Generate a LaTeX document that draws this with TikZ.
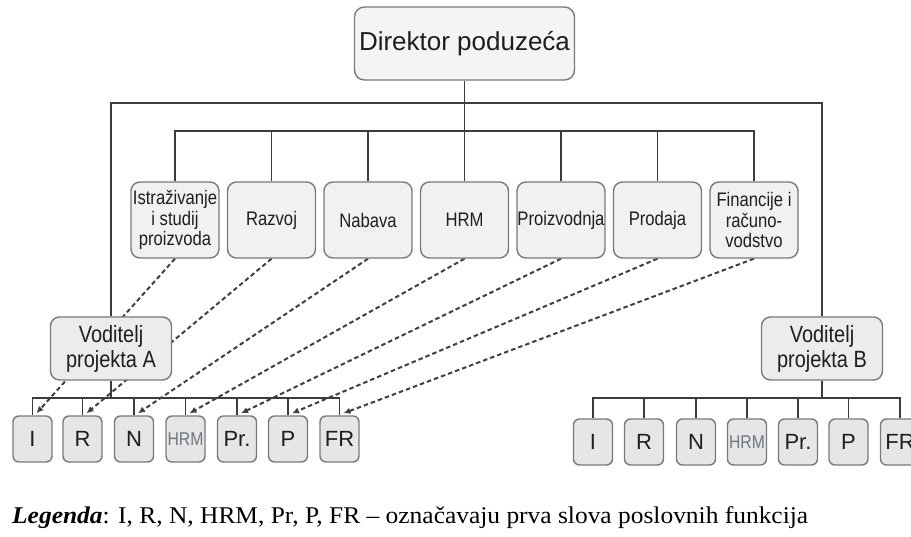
\documentclass[tikz,border=0pt]{standalone}
\usepackage{fontspec}
\setmainfont{Liberation Serif}
\newfontfamily\legendfont[FakeStretch=1.06]{Liberation Serif}
\newfontfamily\boxsans{Liberation Sans}
\newfontfamily\narrowsans[FakeStretch=0.85]{Liberation Sans}
\usetikzlibrary{arrows.meta,backgrounds,calc}
\definecolor{boxgray}{HTML}{7A7A7A}
\definecolor{linegray}{HTML}{3C3C3C}
\definecolor{dashgray}{HTML}{404040}
\definecolor{fillA}{HTML}{F4F4F4}
\definecolor{fillB}{HTML}{F1F1F1}
\definecolor{fillC}{HTML}{ECECEC}
\definecolor{fillD}{HTML}{E6E6E6}
\definecolor{txt}{HTML}{1E1E1E}
\definecolor{hrmtxt}{HTML}{6E7680}
\tikzset{
  anybox/.style={draw=boxgray, line width=1.4pt, inner sep=0pt, align=center, text=txt},
  dirbox/.style={anybox, rounded corners=10pt, fill=fillA, minimum width=220pt, minimum height=73pt,
    font=\boxsans\fontsize{26}{30}\selectfont},
  funcbox/.style={anybox, rounded corners=9pt, fill=fillB, minimum width=88pt, minimum height=76pt,
    font=\narrowsans\fontsize{19.6}{20.5}\selectfont},
  mgrbox/.style={anybox, rounded corners=9pt, fill=fillC, minimum width=121pt, minimum height=63pt,
    font=\narrowsans\fontsize{23.5}{25}\selectfont},
  smallbox/.style={anybox, rounded corners=6pt, fill=fillD, minimum width=39pt, minimum height=46pt,
    font=\boxsans\fontsize{22}{24}\selectfont},
  hrmbox/.style={smallbox, font=\narrowsans\fontsize{18.5}{20}\selectfont, text=hrmtxt},
  conn/.style={draw=linegray, line width=1.5pt},
  dashconn/.style={draw=dashgray, line width=2pt, dash pattern=on 4.5pt off 3pt,
    -{Latex[length=7pt,width=6.5pt]}},
}
\begin{document}
\begin{tikzpicture}[x=1pt,y=-1pt]
\useasboundingbox (0,0) rectangle (911,537);
\clip (0,0) rectangle (911,537);

\node[dirbox] (dir) at (464.5,43.5) {Direktor poduzeća};

\node[funcbox] (m1) at (175,220) {Istraživanje\\i studij\\proizvoda};
\node[funcbox] (m2) at (271.5,220) {Razvoj};
\node[funcbox] (m3) at (368,220) {Nabava};
\node[funcbox] (m4) at (464.5,220) {HRM};
\node[funcbox] (m5) at (561,220) {Proizvodnja};
\node[funcbox] (m6) at (657.5,220) {Prodaja};
\node[funcbox] (m7) at (754,220) {Financije i\\računo-\\vodstvo};

\node[mgrbox] (va) at (111,348.5) {Voditelj\\projekta A};
\node[mgrbox] (vb) at (822,348.5) {Voditelj\\projekta B};

\node[smallbox] (a1) at (32.5,439) {I};
\node[smallbox] (a2) at (82.5,439) {R};
\node[smallbox] (a3) at (134,439) {N};
\node[hrmbox] (a4) at (185.5,439) {HRM};
\node[smallbox] (a5) at (237,439) {Pr.};
\node[smallbox] (a6) at (288,439) {P};
\node[smallbox] (a7) at (339.5,439) {FR};

\node[smallbox] (b1) at (593,442) {I};
\node[smallbox] (b2) at (644,442) {R};
\node[smallbox] (b3) at (696,442) {N};
\node[hrmbox] (b4) at (747,442) {HRM};
\node[smallbox] (b5) at (798,442) {Pr.};
\node[smallbox] (b6) at (848.5,442) {P};
\node[smallbox] (b7) at (900,442) {FR};

\node[anchor=base west, inner sep=0pt, text=black, font=\legendfont\fontsize{24}{27}\selectfont] (legend) at (12,523)
  {\textbf{\textit{Legenda}}: I, R, N, HRM, Pr, P, FR – označavaju prva slova poslovnih funkcija};

\coordinate (obus) at (464.5,103);
\coordinate (ibus) at (464.5,131);
\coordinate (abus) at (111,398);
\coordinate (bbus) at (822,398);

\begin{pgfonlayer}{background}
  \draw[conn] (dir.south) -- (m4.north);
  \foreach \i in {1,...,7} { \draw[conn] (m\i.north) |- (ibus); }
  \draw[conn] (va.north) |- (obus) -| (vb.north);
  \draw[conn] (va.south) -- (abus);
  \foreach \i in {1,...,7} { \draw[conn] (a\i.north) |- (abus); }
  \draw[conn] (vb.south) -- (bbus);
  \foreach \i in {1,...,7} { \draw[conn] (b\i.north) |- (bbus); }
  \foreach \i in {1,...,7} { \draw[dashconn] (m\i.south) -- ($(a\i.north)+(4,-2)$); }
\end{pgfonlayer}
\end{tikzpicture}
\end{document}
